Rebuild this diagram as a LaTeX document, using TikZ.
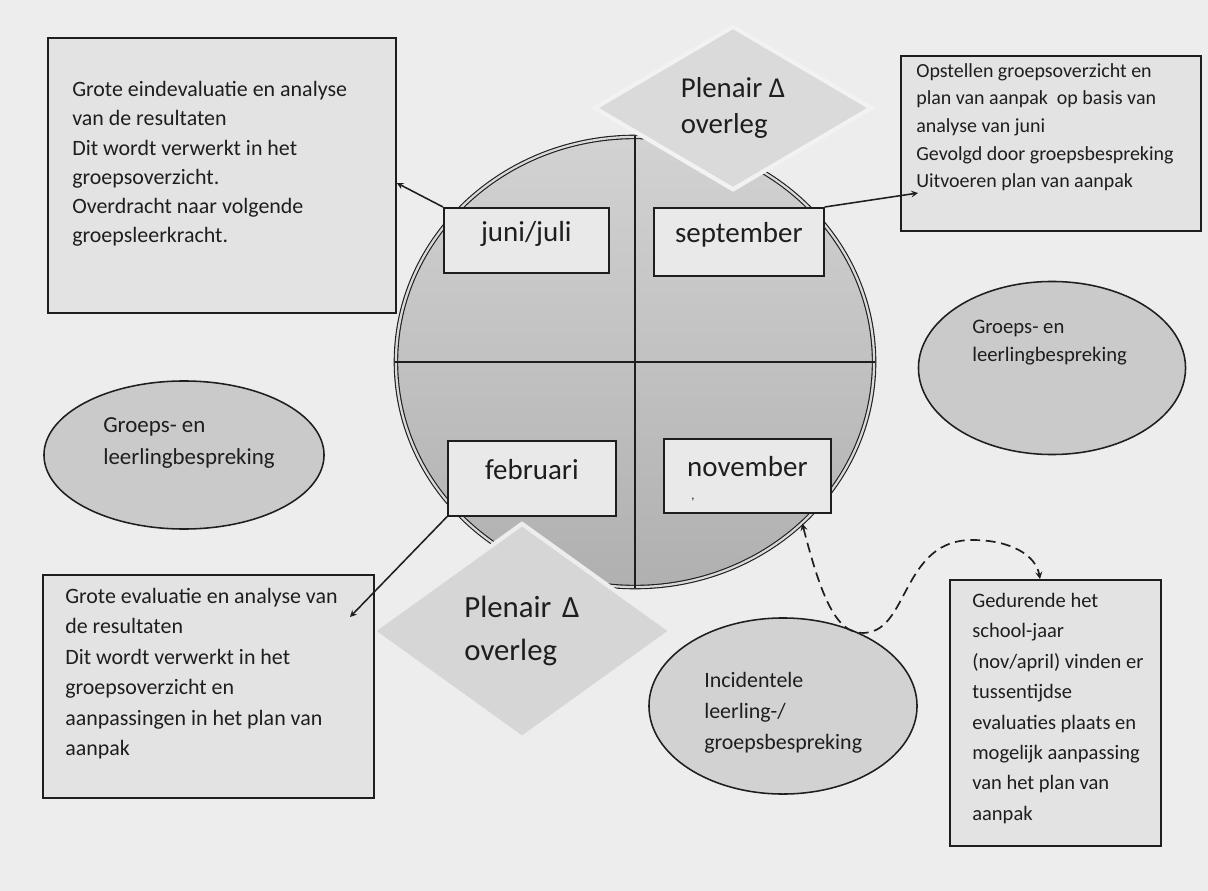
\documentclass[tikz,border=0pt]{standalone}
\usepackage{fontspec}
\setmainfont{Carlito}
\usetikzlibrary{shapes.geometric}

\tikzset{
  infobox/.style={draw=inkLAT, line width=1.2pt, fill=boxLAT, inner sep=0pt, anchor=north west},
  infotext/.style={anchor=north west, inner sep=0pt, align=left, text=inkLAT},
  monthbox/.style={draw=inkLAT, line width=1.2pt, fill=monthLAT, inner sep=0pt, anchor=north west, text=inkLAT, text depth=13pt, font=\fontsize{20.6}{24}\selectfont},
  bubble/.style={ellipse, draw=inkLAT, line width=1.1pt, fill=bubbleLAT, inner sep=0pt},
  plenair/.style={diamond, draw=edgeLAT, line width=3pt, fill=diamondLAT, inner sep=0pt, align=left, text=inkLAT},
}

\begin{document}
\begin{tikzpicture}[x=0.025cm, y=-0.025cm, >=stealth]

\definecolor{paperLAT}{HTML}{EDEDED}
\definecolor{boxLAT}{HTML}{E3E3E3}
\definecolor{monthLAT}{HTML}{E9E9E9}
\definecolor{bubbleLAT}{HTML}{CACACA}
\definecolor{diamondLAT}{HTML}{DADADA}
\definecolor{edgeLAT}{HTML}{F2F2F2}
\definecolor{inkLAT}{HTML}{1E1E1E}

\useasboundingbox (0,0) rectangle (1208,891);
\fill[paperLAT] (0,0) rectangle (1208,891);

% the year circle
\node[ellipse, draw=inkLAT, double=gray!30, double distance=1.6pt, line width=0.8pt,
      minimum width=11.95cm, minimum height=11.25cm,
      top color=gray!35, bottom color=gray!62] (clock) at (635,362) {};
\draw[inkLAT, line width=1pt] (clock.north) -- (clock.south);
\draw[inkLAT, line width=1pt] (clock.west) -- (clock.east);

\node[plenair, minimum width=6.95cm, minimum height=4.0cm, font=\fontsize{20.5}{25}\selectfont] (topmeet) at (733,108) {Plenair Δ\\ overleg};
\node[plenair, fill=gray!32, draw=gray!14, minimum width=7.5cm, minimum height=5.4cm, font=\fontsize{21.9}{30}\selectfont] (botmeet) at (522,631) {Plenair\hspace{0.35em}Δ\\ overleg};

\node[monthbox, minimum width=4.125cm, minimum height=1.625cm] (jun) at (443,207) {juni/juli};
\node[monthbox, minimum width=4.25cm, minimum height=1.7cm] (sep) at (653,207) {september};
\node[monthbox, minimum width=4.2cm, minimum height=1.875cm] (feb) at (447,440) {februari};
\node[monthbox, minimum width=4.175cm, minimum height=1.85cm] (nov) at (663,438) {november};
\node[inner sep=0pt, text=inkLAT, font=\small] (novtick) at (693,500) {,};

% text boxes
\node[infobox, minimum width=8.7cm, minimum height=6.875cm] (tlbox) at (47,37) {};
\node[infotext, font=\fontsize{15.6}{20.8}\selectfont] (tltext) at (72,81) {Grote eindevaluatie en analyse\\ van de resultaten\\ Dit wordt verwerkt in het\\ groepsoverzicht.\\ Overdracht naar volgende\\ groepsleerkracht.};

\node[infobox, minimum width=7.5cm, minimum height=4.375cm] (trbox) at (900,55) {};
\node[infotext, font=\fontsize{14.2}{19.7}\selectfont] (trtext) at (916,63) {Opstellen groepsoverzicht en\\ plan van aanpak\ \ op basis van\\ analyse van juni\\ Gevolgd door groepsbespreking\\ Uitvoeren plan van aanpak};

\node[infobox, minimum width=8.275cm, minimum height=5.575cm] (blbox) at (42,574) {};
\node[infotext, font=\fontsize{15.6}{21.6}\selectfont] (bltext) at (65,588) {Grote evaluatie en analyse van\\ de resultaten\\ Dit wordt verwerkt in het\\ groepsoverzicht en\\ aanpassingen in het plan van\\ aanpak};

\node[infobox, minimum width=5.275cm, minimum height=6.65cm] (brbox) at (949,579) {};
\node[infotext, font=\fontsize{14.6}{21.6}\selectfont] (brtext) at (972,593) {Gedurende het\\ school-jaar\\ (nov/april) vinden er\\ tussentijdse\\ evaluaties plaats en\\ mogelijk aanpassing\\ van het plan van\\ aanpak};

% bespreking ellipses
\node[bubble, minimum width=7.0cm, minimum height=3.7cm] (lbub) at (184,455) {};
\node[infotext, font=\fontsize{16.3}{22.7}\selectfont] (lbubtext) at (103,417) {Groeps- en\\ leerlingbespreking};

\node[bubble, minimum width=6.675cm, minimum height=4.325cm] (rbub) at (1052,368) {};
\node[infotext, font=\fontsize{14.7}{20}\selectfont] (rbubtext) at (972,320) {Groeps- en\\ leerlingbespreking};

\node[bubble, fill=gray!35, minimum width=6.7cm, minimum height=4.4cm] (bbub) at (783,706) {};
\node[infotext, font=\fontsize{15.6}{22}\selectfont] (bbubtext) at (704,672) {Incidentele\\ leerling-/\\ groepsbespreking};

% arrows
\coordinate (septip) at (918,193);
\coordinate (febtip) at (350,617);

\draw[inkLAT, line width=1.1pt, ->] (jun.north west) -- (tlbox.east |- 0,183);
\draw[inkLAT, line width=1.1pt, ->] (sep.north east) -- (septip);
\draw[inkLAT, line width=1.1pt, ->] (feb.south west) -- (febtip);

\draw[inkLAT, line width=1.2pt, dash pattern=on 7pt off 4pt, <->]
  (clock.-44) .. controls (822,600) and (838,640) .. (870,632)
  .. controls (908,624) and (905,540) .. (972,540)
  .. controls (1012,540) and (1036,556) .. (brbox.north -| 1040,0);

\end{tikzpicture}
\end{document}
